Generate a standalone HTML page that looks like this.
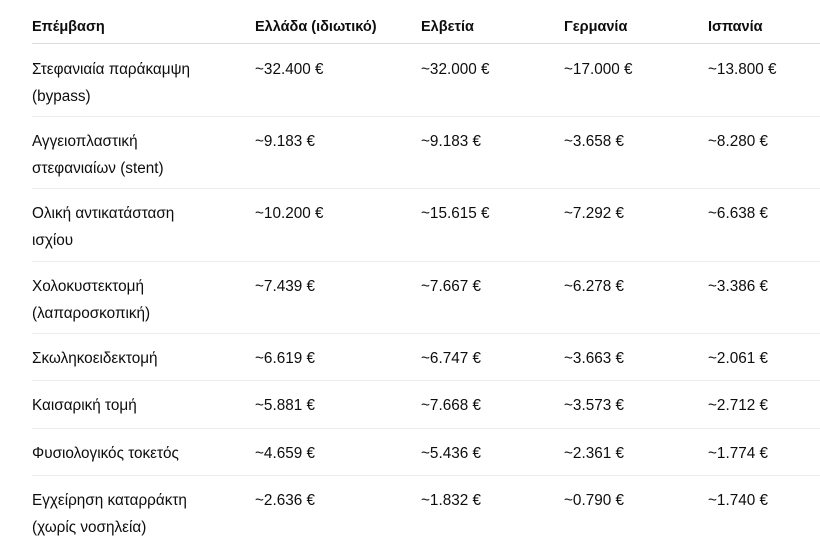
<!DOCTYPE html>
<html><head><meta charset="utf-8"><style>
body{margin:0;width:820px;height:559px;background:#fff;font-family:"Liberation Sans","DejaVu Sans",sans-serif;font-size:15.3px;color:#0d0d0d;position:relative;overflow:hidden}
.c{position:absolute;line-height:27px;white-space:nowrap}
.h{font-weight:600;top:14px;font-size:14.5px}
.l{position:absolute;left:32px;right:0;height:1px;background:#ececec}
</style></head><body>
<div class="c h" style="left:32px">Επέμβαση</div>
<div class="c h" style="left:255px">Ελλάδα (ιδιωτικό)</div>
<div class="c h" style="left:421px">Ελβετία</div>
<div class="c h" style="left:564px">Γερμανία</div>
<div class="c h" style="left:708px">Ισπανία</div>
<div class="l" style="top:43px;background:#dcdcdc"></div>

<div class="c" style="left:32px;top:56px">Στεφανιαία παράκαμψη<br>(bypass)</div>
<div class="c" style="left:255px;top:56px">~32.400 €</div>
<div class="c" style="left:421px;top:56px">~32.000 €</div>
<div class="c" style="left:564px;top:56px">~17.000 €</div>
<div class="c" style="left:708px;top:56px">~13.800 €</div>
<div class="l" style="top:116px"></div>

<div class="c" style="left:32px;top:128px">Αγγειοπλαστική<br>στεφανιαίων (stent)</div>
<div class="c" style="left:255px;top:128px">~9.183 €</div>
<div class="c" style="left:421px;top:128px">~9.183 €</div>
<div class="c" style="left:564px;top:128px">~3.658 €</div>
<div class="c" style="left:708px;top:128px">~8.280 €</div>
<div class="l" style="top:188px"></div>

<div class="c" style="left:32px;top:200px">Ολική αντικατάσταση<br>ισχίου</div>
<div class="c" style="left:255px;top:200px">~10.200 €</div>
<div class="c" style="left:421px;top:200px">~15.615 €</div>
<div class="c" style="left:564px;top:200px">~7.292 €</div>
<div class="c" style="left:708px;top:200px">~6.638 €</div>
<div class="l" style="top:261px"></div>

<div class="c" style="left:32px;top:273px">Χολοκυστεκτομή<br>(λαπαροσκοπική)</div>
<div class="c" style="left:255px;top:273px">~7.439 €</div>
<div class="c" style="left:421px;top:273px">~7.667 €</div>
<div class="c" style="left:564px;top:273px">~6.278 €</div>
<div class="c" style="left:708px;top:273px">~3.386 €</div>
<div class="l" style="top:333px"></div>

<div class="c" style="left:32px;top:345px">Σκωληκοειδεκτομή</div>
<div class="c" style="left:255px;top:345px">~6.619 €</div>
<div class="c" style="left:421px;top:345px">~6.747 €</div>
<div class="c" style="left:564px;top:345px">~3.663 €</div>
<div class="c" style="left:708px;top:345px">~2.061 €</div>
<div class="l" style="top:380px"></div>

<div class="c" style="left:32px;top:392px">Καισαρική τομή</div>
<div class="c" style="left:255px;top:392px">~5.881 €</div>
<div class="c" style="left:421px;top:392px">~7.668 €</div>
<div class="c" style="left:564px;top:392px">~3.573 €</div>
<div class="c" style="left:708px;top:392px">~2.712 €</div>
<div class="l" style="top:428px"></div>

<div class="c" style="left:32px;top:440px">Φυσιολογικός τοκετός</div>
<div class="c" style="left:255px;top:440px">~4.659 €</div>
<div class="c" style="left:421px;top:440px">~5.436 €</div>
<div class="c" style="left:564px;top:440px">~2.361 €</div>
<div class="c" style="left:708px;top:440px">~1.774 €</div>
<div class="l" style="top:475px"></div>

<div class="c" style="left:32px;top:487px">Εγχείρηση καταρράκτη<br>(χωρίς νοσηλεία)</div>
<div class="c" style="left:255px;top:487px">~2.636 €</div>
<div class="c" style="left:421px;top:487px">~1.832 €</div>
<div class="c" style="left:564px;top:487px">~0.790 €</div>
<div class="c" style="left:708px;top:487px">~1.740 €</div>
</body></html>
